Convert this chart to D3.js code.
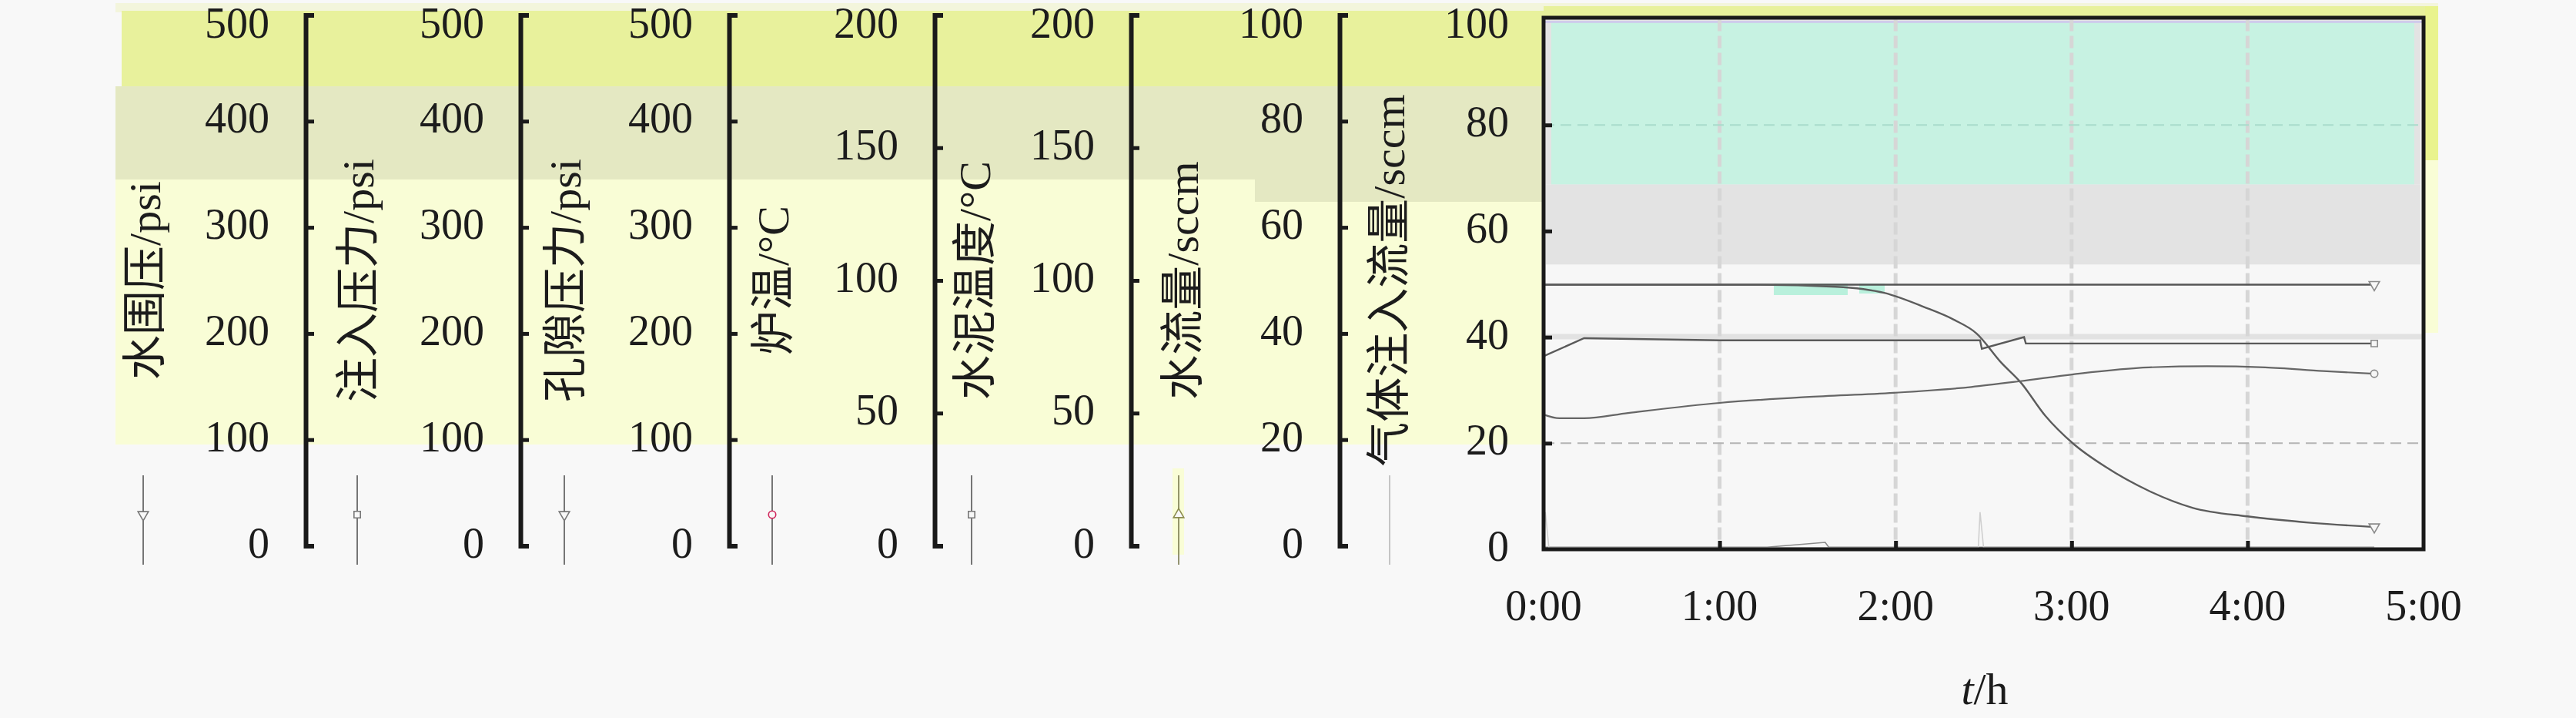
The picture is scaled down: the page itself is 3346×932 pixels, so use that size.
<!DOCTYPE html>
<html>
<head>
<meta charset="utf-8">
<script src="https://cdn.jsdelivr.net/npm/d3@7"></script>
<style>
  html, body { margin: 0; padding: 0; background: #f8f8f8; }
  svg { display: block; }
  text { font-family: "Liberation Serif", "Times New Roman", "Noto Sans CJK SC", serif; fill: #1c1c1c; }
</style>
</head>
<body>
<script>
// axis titles, ranges and tick steps (left to right)
var axisTitles = ["水围压/psi", "注入压力/psi", "孔隙压力/psi", "炉温/°C", "水泥温度/°C", "水流量/sccm", "气体注入流量/sccm"];
var axisMax = [500, 500, 500, 200, 200, 100, 100];
var axisStep = [100, 100, 100, 50, 50, 20, 20];

// time axis (hours)
var timeTicks = [0, 1, 2, 3, 4, 5];

// series
var tConfine = [0, 1, 2, 3, 4, 4.72];
var confinePsi = [249.5, 249.5, 249.5, 249.5, 249.5, 249.5];

var tInject = [0, 0.23, 1.0, 2.0, 2.48, 2.49, 2.73, 2.74, 3.5, 4.72];
var injectPsi = [182, 199, 197, 197, 197, 189, 200, 194, 194, 194];

var tPore = [0, 1.0, 1.18, 1.66, 1.94, 2.16, 2.33, 2.46, 2.6, 2.71, 2.85, 3.01, 3.19, 3.44, 3.69, 4.0, 4.36, 4.72];
var porePsi = [249.5, 249.5, 249.5, 247.5, 241.5, 228.5, 216.5, 203.5, 176, 157.5, 126, 99.5, 78, 55, 39, 31, 25, 21];

var tCement = [0, 0.09, 0.23, 0.48, 1.0, 1.49, 1.99, 2.43, 2.71, 3.01, 3.44, 3.77, 4.1, 4.43, 4.72];
var cementC = [50.8, 49.4, 49.4, 51.4, 55.2, 57.4, 59, 61.2, 63.4, 66, 68.6, 69, 68.6, 67.2, 66.2];

var tWater = [0, 1.27, 1.6, 1.62, 4.72];
var waterSccm = [0.4, 0.4, 1.3, 0.4, 0.4];

var tGas = [0, 0.01, 0.03, 2.47, 2.48, 2.5, 4.72];
var gasSccm = [0, 7, 0.3, 0.3, 7, 0.3, 0.3];

// layout
var W = 3346, H = 932;
var axisLineX = [397, 676, 947, 1214, 1469, 1740, 2005];
var titleX = [187, 464, 733, 1003, 1265, 1535, 1803];
var sideTop = 19.5, sideBottom = 708.5;
var plot = {left: 2005, right: 3148, top: 24.5, bottom: 713};

var svg = d3.select("body").append("svg")
    .attr("width", W)
    .attr("height", H);

// page background and the washed colour bands behind the axes
svg.append("rect").attr("width", W).attr("height", H).attr("fill", "#f8f8f8");
svg.append("rect").attr("x", 150).attr("y", 4).attr("width", 3017).attr("height", 12).attr("fill", "#f3f5dc");
svg.append("rect").attr("x", 150).attr("y", 233).attr("width", 1855).attr("height", 344).attr("fill", "#f9fdd6");
svg.append("rect").attr("x", 150).attr("y", 112).attr("width", 1855).attr("height", 121).attr("fill", "#e4e8c2");
svg.append("rect").attr("x", 1630).attr("y", 112).attr("width", 375).attr("height", 150).attr("fill", "#e4e8c2");
svg.append("rect").attr("x", 158).attr("y", 14).attr("width", 1847).attr("height", 98).attr("fill", "#e8f19c");
svg.append("rect").attr("x", 2005).attr("y", 8).attr("width", 1160).attr("height", 15).attr("fill", "#e8f19c");
svg.append("rect").attr("x", 3150).attr("y", 8).attr("width", 17).attr("height", 424).attr("fill", "#f9fdd6");
svg.append("rect").attr("x", 3150).attr("y", 8).attr("width", 17).attr("height", 200).attr("fill", "#e9f38e");

// scales
var x = d3.scaleLinear().domain([0, 5]).range([plot.left, plot.right]);
var sideScales = axisMax.map(function(m) {
    return d3.scaleLinear().domain([0, m]).range([sideBottom, sideTop]);
});
var plotScales = axisMax.map(function(m) {
    return d3.scaleLinear().domain([0, m]).range([plot.bottom, plot.top]);
});
var yMain = plotScales[6];

// tick labels sit a little above their ticks, the top one is kept inside the page
function labelY(scale, d) {
    return Math.max(scale(d) - 4, 30);
}

// side axes: line + ticks on the right, labels on the left
for (var i = 0; i < 6; ++i) {
    var ticks = d3.range(0, axisMax[i] + 0.1, axisStep[i]);
    var g = svg.append("g").attr("transform", "translate(" + axisLineX[i] + ",0)");
    g.call(d3.axisRight(sideScales[i]).tickValues(ticks).tickSize(11).tickSizeOuter(11).tickFormat(""));
    g.select(".domain").attr("stroke", "#1a1a1a").attr("stroke-width", 6).attr("fill", "none");
    g.selectAll(".tick line").attr("stroke", "#1a1a1a").attr("stroke-width", 5);
    g.selectAll(".label")
        .data(ticks)
        .enter().append("text")
        .attr("class", "label")
        .attr("x", -47)
        .attr("y", function(d) { return labelY(sideScales[i], d); })
        .attr("dy", "0.34em")
        .attr("text-anchor", "end")
        .style("font-size", "56px")
        .text(function(d) { return d; });
}

// axis titles
svg.selectAll(".axis-title")
    .data(axisTitles)
    .enter().append("text")
    .attr("class", "axis-title")
    .attr("transform", function(d, i) { return "translate(" + titleX[i] + ",364) rotate(-90)"; })
    .attr("text-anchor", "middle")
    .attr("dy", "0.36em")
    .style("font-size", "58px")
    .text(function(d) { return d; });

// legend samples under the titles
var legendX = [186, 464, 733, 1003, 1262, 1531, 1805];
var legendMarker = ["down", "square", "down", "circle", "square", "up", "none"];
var legendLine = ["#555", "#555", "#555", "#555", "#555", "#7a7a50", "#b8b8b8"];
var legendMarkColor = ["#777", "#777", "#777", "#d0245a", "#777", "#8a8a50", "#bbb"];
svg.append("rect").attr("x", 1523).attr("y", 608).attr("width", 15).attr("height", 112).attr("fill", "#f9fdd6");

function marker(kind) {
    if (kind == "square") return d3.symbol().type(d3.symbolSquare).size(70)();
    if (kind == "circle") return d3.symbol().type(d3.symbolCircle).size(70)();
    if (kind == "up" || kind == "down") return d3.symbol().type(d3.symbolTriangle).size(80)();
    return null;
}

var leg = svg.selectAll(".legend")
    .data(legendX)
    .enter().append("g")
    .attr("class", "legend")
    .attr("transform", function(d) { return "translate(" + d + ",0)"; });
leg.append("line")
    .attr("y1", 617).attr("y2", 733)
    .attr("stroke", function(d, i) { return legendLine[i]; })
    .attr("stroke-width", 1.6);
leg.filter(function(d, i) { return legendMarker[i] != "none"; })
    .append("path")
    .attr("d", function(d, i) { return marker(legendMarker[i]); })
    .attr("transform", function(d, i) {
        return "translate(0,668)" + (legendMarker[i] == "down" ? " rotate(180)" : "");
    })
    .attr("fill", "#f8f8f8")
    .attr("stroke", function(d, i) { return legendMarkColor[i]; })
    .attr("stroke-width", 1.6);

// main plot background bands
var pg = svg.append("g");
pg.append("rect").attr("x", plot.left).attr("y", plot.top).attr("width", plot.right - plot.left).attr("height", plot.bottom - plot.top).attr("fill", "#f7f7f7");
pg.append("rect").attr("x", plot.left + 3).attr("y", yMain(68.8)).attr("width", plot.right - plot.left - 7).attr("height", yMain(53.7) - yMain(68.8)).attr("fill", "#e3e3e3");
pg.append("rect").attr("x", plot.left + 3).attr("y", plot.top).attr("width", plot.right - plot.left - 7).attr("height", yMain(68.8) - plot.top).attr("fill", "#e3e3e3");
pg.append("rect").attr("x", plot.left + 10).attr("y", plot.top + 5).attr("width", plot.right - plot.left - 22).attr("height", yMain(68.8) - plot.top - 5).attr("fill", "#c7f2e2");
pg.append("line").attr("x1", plot.left).attr("x2", plot.right).attr("y1", plot.top + 4).attr("y2", plot.top + 4).attr("stroke", "#c8c0f0").attr("stroke-width", 2);
pg.append("rect").attr("x", plot.left).attr("y", yMain(40.6)).attr("width", plot.right - plot.left).attr("height", 7).attr("fill", "#e2e2e2");
pg.append("rect").attr("x", 2304).attr("y", 368).attr("width", 96).attr("height", 15).attr("fill", "#b9f0dc");
pg.append("rect").attr("x", 2415).attr("y", 368).attr("width", 33).attr("height", 13).attr("fill", "#b9f0dc");

// grid
pg.selectAll(".vgrid")
    .data(timeTicks.slice(1, 5))
    .enter().append("line")
    .attr("x1", function(d) { return x(d); })
    .attr("x2", function(d) { return x(d); })
    .attr("y1", plot.top).attr("y2", plot.bottom)
    .attr("stroke", "#d6d6d6").attr("stroke-width", 5)
    .attr("stroke-dasharray", "16,6");
pg.selectAll(".hgrid")
    .data([20, 80])
    .enter().append("line")
    .attr("x1", plot.left).attr("x2", plot.right)
    .attr("y1", function(d) { return yMain(d); })
    .attr("y2", function(d) { return yMain(d); })
    .attr("stroke", function(d) { return d == 80 ? "#a9dccb" : "#b4b4b4"; })
    .attr("stroke-width", 2)
    .attr("stroke-dasharray", "14,8");

// series
var series = [
    {t: tConfine, v: confinePsi, axis: 0, color: "#555", w: 2.4, mark: "down", curve: d3.curveLinear},
    {t: tInject, v: injectPsi, axis: 1, color: "#5a5a5a", w: 2.4, mark: "square", curve: d3.curveLinear},
    {t: tPore, v: porePsi, axis: 2, color: "#5c5c5c", w: 2.4, mark: "down", curve: d3.curveMonotoneX},
    {t: tCement, v: cementC, axis: 4, color: "#666", w: 2.2, mark: "circle", curve: d3.curveMonotoneX},
    {t: tWater, v: waterSccm, axis: 5, color: "#8a8a8a", w: 1.6, mark: "none", curve: d3.curveLinear},
    {t: tGas, v: gasSccm, axis: 6, color: "#cfcfcf", w: 1.6, mark: "none", curve: d3.curveLinear}
];

var lines = svg.append("g");
series.forEach(function(s) {
    var ys = plotScales[s.axis];
    var pts = s.t.map(function(t, k) { return [t, s.v[k]]; });
    var line = d3.line()
        .x(function(d) { return x(d[0]); })
        .y(function(d) { return ys(d[1]); })
        .curve(s.curve);
    lines.append("path")
        .attr("d", line(pts))
        .attr("fill", "none")
        .attr("stroke", s.color)
        .attr("stroke-width", s.w);
    if (s.mark != "none") {
        var last = pts[pts.length - 1];
        lines.append("path")
            .attr("d", marker(s.mark))
            .attr("transform", "translate(" + x(last[0]) + "," + ys(last[1]) + ")" + (s.mark == "down" ? " rotate(180)" : ""))
            .attr("fill", "#f7f7f7")
            .attr("stroke", "#8a8a8a")
            .attr("stroke-width", 1.6);
    }
});

// frame, inner ticks and labels of the main plot
svg.append("rect")
    .attr("x", plot.left).attr("y", plot.top - 1.5)
    .attr("width", plot.right - plot.left).attr("height", plot.bottom - plot.top + 1.5)
    .attr("fill", "none").attr("stroke", "#1a1a1a").attr("stroke-width", 5);

var gy = svg.append("g").attr("transform", "translate(" + plot.left + ",0)");
gy.call(d3.axisRight(yMain).tickValues([20, 40, 60, 80]).tickSize(11).tickFormat(""));
gy.select(".domain").remove();
gy.selectAll(".tick line").attr("stroke", "#1a1a1a").attr("stroke-width", 5);
gy.selectAll(".label")
    .data(d3.range(0, 101, 20))
    .enter().append("text")
    .attr("class", "label")
    .attr("x", -45)
    .attr("y", function(d) { return labelY(yMain, d); })
    .attr("dy", "0.34em")
    .attr("text-anchor", "end")
    .style("font-size", "56px")
    .text(function(d) { return d; });

var gx = svg.append("g").attr("transform", "translate(0," + plot.bottom + ")");
gx.call(d3.axisBottom(x).tickValues(timeTicks.slice(1, 5)).tickSize(-11).tickFormat(""));
gx.select(".domain").remove();
gx.selectAll(".tick line").attr("stroke", "#1a1a1a").attr("stroke-width", 5);
svg.selectAll(".xlabel")
    .data(timeTicks)
    .enter().append("text")
    .attr("class", "xlabel")
    .attr("x", function(d) { return x(d); })
    .attr("y", 805)
    .attr("text-anchor", "middle")
    .style("font-size", "56px")
    .text(function(d) { return d + ":00"; });

var xt = svg.append("text")
    .attr("x", 2578).attr("y", 914)
    .attr("text-anchor", "middle")
    .style("font-size", "58px");
xt.append("tspan").style("font-style", "italic").text("t");
xt.append("tspan").text("/h");
</script>
</body>
</html>
